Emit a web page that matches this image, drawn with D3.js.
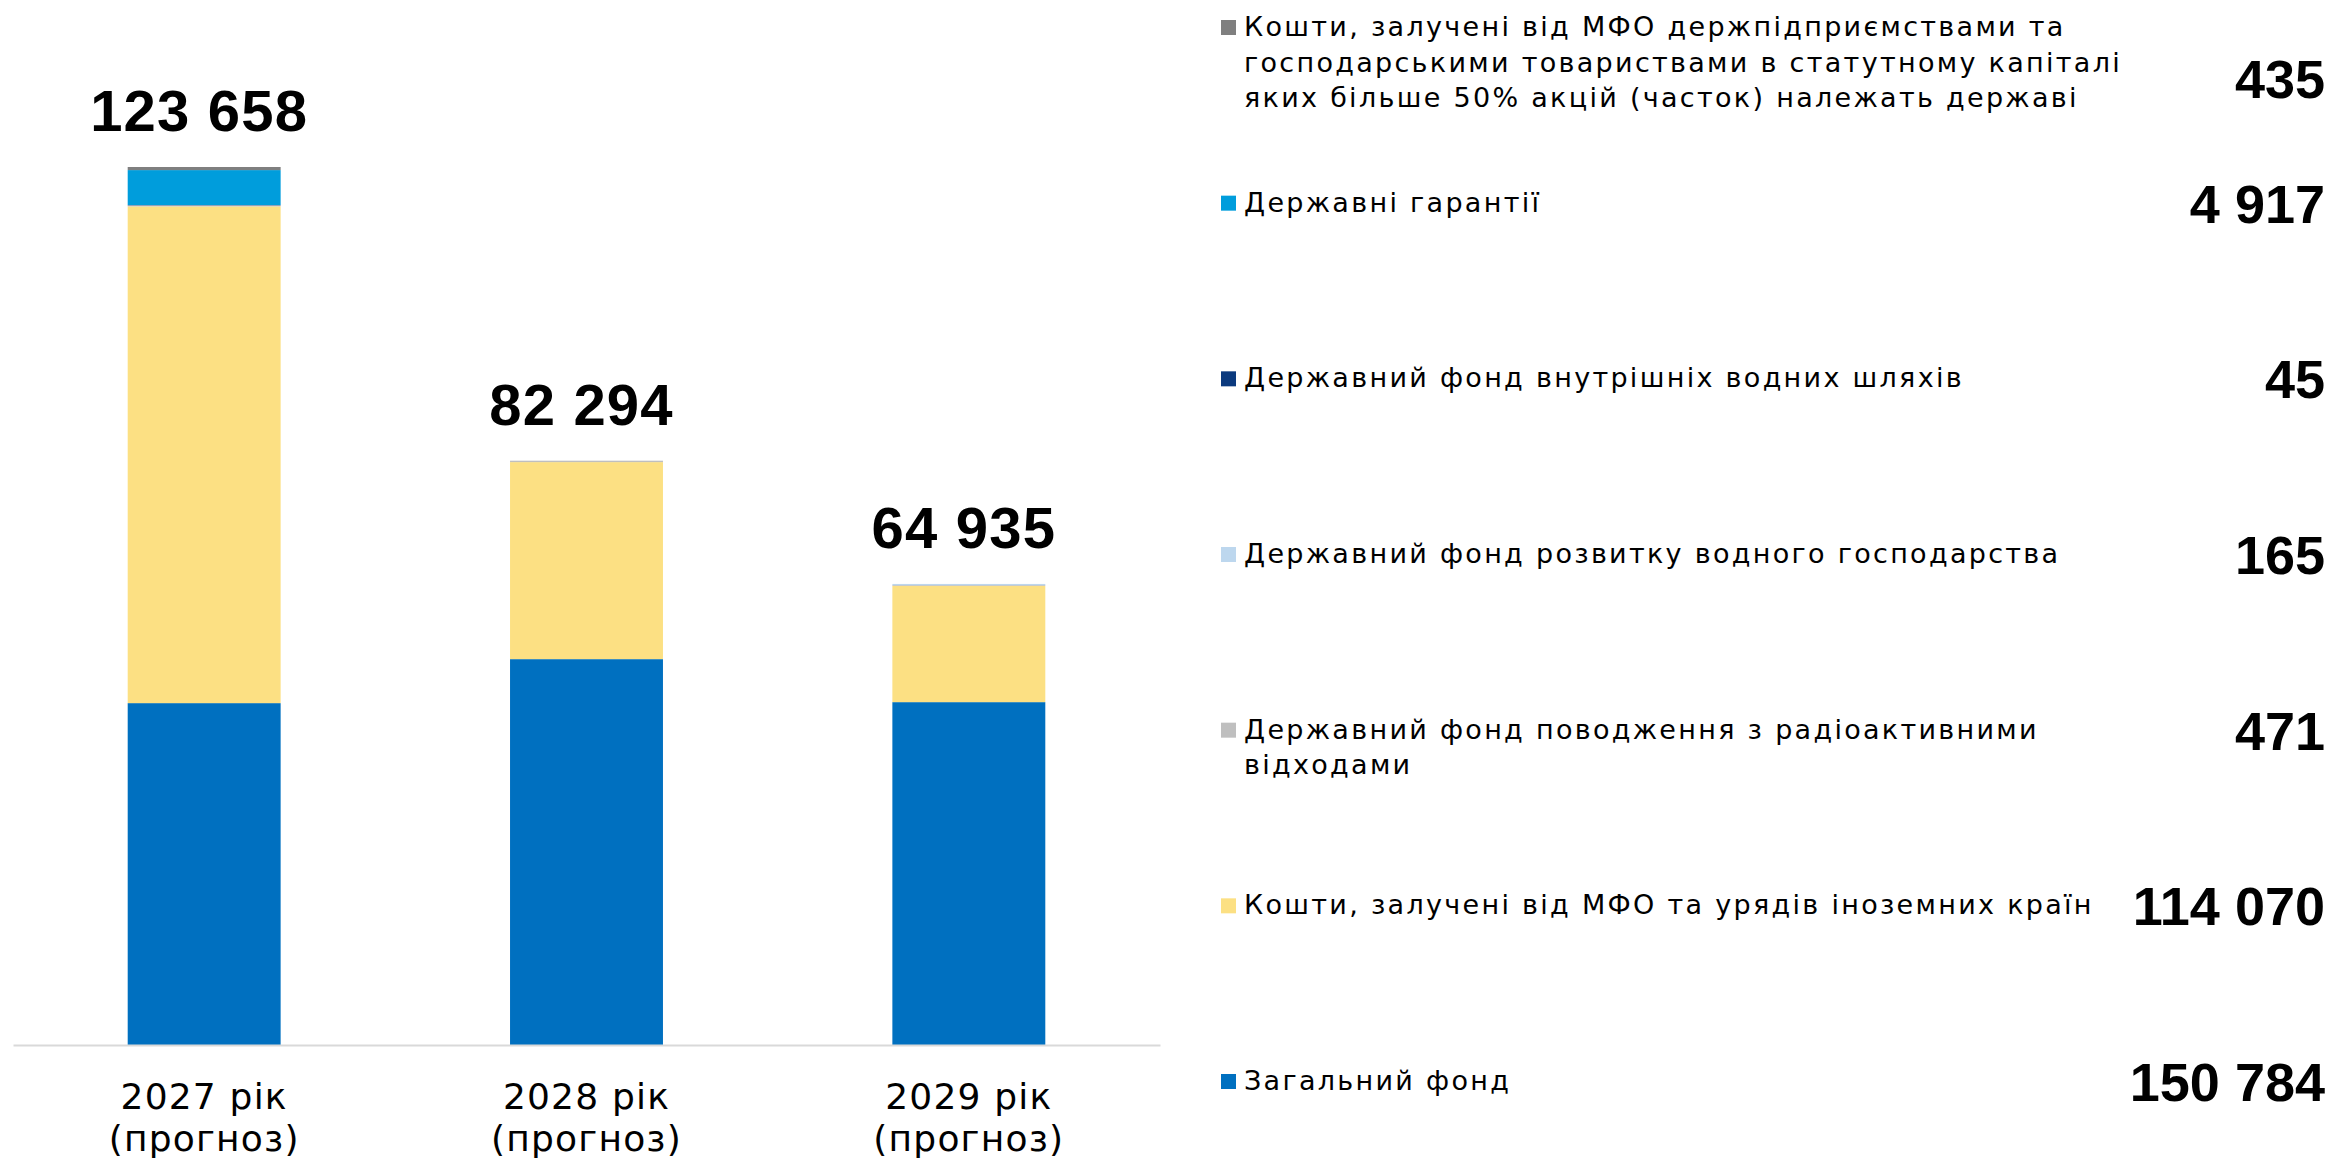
<!DOCTYPE html>
<meta charset="utf-8">
<script src="https://d3js.org/d3.v7.min.js"></script>
<style>
 body { margin: 0; background: #fff; }
 text { font-family: "Liberation Sans", Arial, sans-serif; fill: #000; }
</style>
<svg width="2328" height="1158"></svg>
<script>
 // categories (two-line tick labels)
 var years = ["2027", "2028", "2029"];
 var yearLabels = [["2027 рік", "(прогноз)"], ["2028 рік", "(прогноз)"], ["2029 рік", "(прогноз)"]];

 // series, bottom of the stack first
 var zagalnyiFond   = [48150, 54345, 48289];
 var mfoUriady      = [69961, 27749, 16360];
 var radioVidkhody  = [150, 200, 121];
 var vodneGosp      = [0, 0, 165];
 var vodniShliakhy  = [45, 0, 0];
 var garantii       = [4917, 0, 0];
 var mfoDerzhp      = [435, 0, 0];

 var keys = ["zag", "mfo", "radio", "vodne", "shliakhy", "gar", "derzhp"];
 var seriesValues = {
   zag: zagalnyiFond, mfo: mfoUriady, radio: radioVidkhody, vodne: vodneGosp,
   shliakhy: vodniShliakhy, gar: garantii, derzhp: mfoDerzhp
 };
 var seriesNames = {
   derzhp: ["Кошти, залучені від МФО держпідприємствами та",
            "господарськими товариствами в статутному капіталі",
            "яких більше 50% акцій (часток) належать державі"],
   gar: ["Державні гарантії"],
   shliakhy: ["Державний фонд внутрішніх водних шляхів"],
   vodne: ["Державний фонд розвитку водного господарства"],
   radio: ["Державний фонд поводження з радіоактивними", "відходами"],
   mfo: ["Кошти, залучені від МФО та урядів іноземних країн"],
   zag: ["Загальний фонд"]
 };
 var colors = {
   zag: "#0070c0", mfo: "#fce083", radio: "#bfbfbf", vodne: "#bdd7ee",
   shliakhy: "#0b3a7e", gar: "#009ddc", derzhp: "#7f7f7f"
 };

 var fmt = d3.formatLocale({decimal: ",", thousands: " ", grouping: [3], currency: ["", ""]}).format(",d");

 var table = years.map(function(y, i) {
   var row = {year: y};
   keys.forEach(function(k) { row[k] = seriesValues[k][i]; });
   return row;
 });
 var totals = table.map(function(r) { return d3.sum(keys, function(k) { return r[k]; }); });

 var svg = d3.select("svg");

 var x = d3.scaleBand().domain(years).range([13, 1160]).paddingInner(0.6).paddingOuter(0.3);
 var y = d3.scaleLinear().domain([0, d3.max(totals)]).range([1045, 167]);

 var stacked = d3.stack().keys(keys)(table);

 svg.append("g").selectAll("g")
    .data(stacked)
    .enter().append("g")
    .attr("fill", function(d) { return colors[d.key]; })
    .selectAll("rect")
    .data(function(d) { return d; })
    .enter().append("rect")
    .attr("x", function(d) { return x(d.data.year); })
    .attr("width", x.bandwidth())
    .attr("y", function(d) { return y(d[1]); })
    .attr("height", function(d) { return y(d[0]) - y(d[1]); });

 // axis
 var axis = svg.append("g")
    .attr("transform", "translate(0," + 1045 + ")")
    .call(d3.axisBottom(x).tickSize(0).tickFormat(""));
 axis.select(".domain").attr("stroke", "#d9d9d9").attr("stroke-width", 2);
 axis.selectAll(".tick text").remove();
 axis.selectAll(".tick").append("text")
    .attr("text-anchor", "middle")
    .style("font-family", "'DejaVu Sans', sans-serif")
    .style("font-size", "36px")
    .style("letter-spacing", "1.2px")
    .selectAll("tspan")
    .data(function(d, i) { return yearLabels[i]; })
    .enter().append("tspan")
    .attr("x", 0)
    .attr("y", function(d, j) { return 64 + j * 42; })
    .text(function(d) { return d; });

 // totals above bars
 svg.append("g").selectAll("text")
    .data(years)
    .enter().append("text")
    .attr("x", function(d) { return x(d) + x.bandwidth() / 2 - 5; })
    .attr("y", function(d, i) { return y(totals[i]) - 36; })
    .attr("text-anchor", "middle")
    .style("font-size", "58px")
    .style("font-weight", "bold")
    .style("letter-spacing", "1.2px")
    .text(function(d, i) { return fmt(totals[i]); });

 // legend, top of the stack first
 var legendKeys = keys.slice().reverse();
 var ly = d3.scalePoint().domain(legendKeys).range([36, 1090]);
 var lg = svg.append("g").selectAll("g")
    .data(legendKeys)
    .enter().append("g")
    .attr("transform", function(k) { return "translate(0," + ly(k) + ")"; });

 lg.append("rect")
    .attr("x", 1221).attr("y", -16)
    .attr("width", 15).attr("height", 15)
    .attr("fill", function(k) { return colors[k]; });

 lg.append("text")
    .style("font-family", "'DejaVu Sans', sans-serif")
    .style("font-size", "27px")
    .style("letter-spacing", "2.3px")
    .attr("fill", "#111")
    .selectAll("tspan")
    .data(function(k) { return seriesNames[k]; })
    .enter().append("tspan")
    .attr("x", 1244)
    .attr("y", function(d, j) { return j * 35.5; })
    .text(function(d) { return d; });

 lg.append("text")
    .attr("x", 2325)
    .attr("y", function(k) { return seriesNames[k].length > 2 ? 62 : 11; })
    .attr("text-anchor", "end")
    .style("font-size", "54px")
    .style("font-weight", "bold")
    .text(function(k) { return fmt(d3.sum(seriesValues[k])); });
</script>
